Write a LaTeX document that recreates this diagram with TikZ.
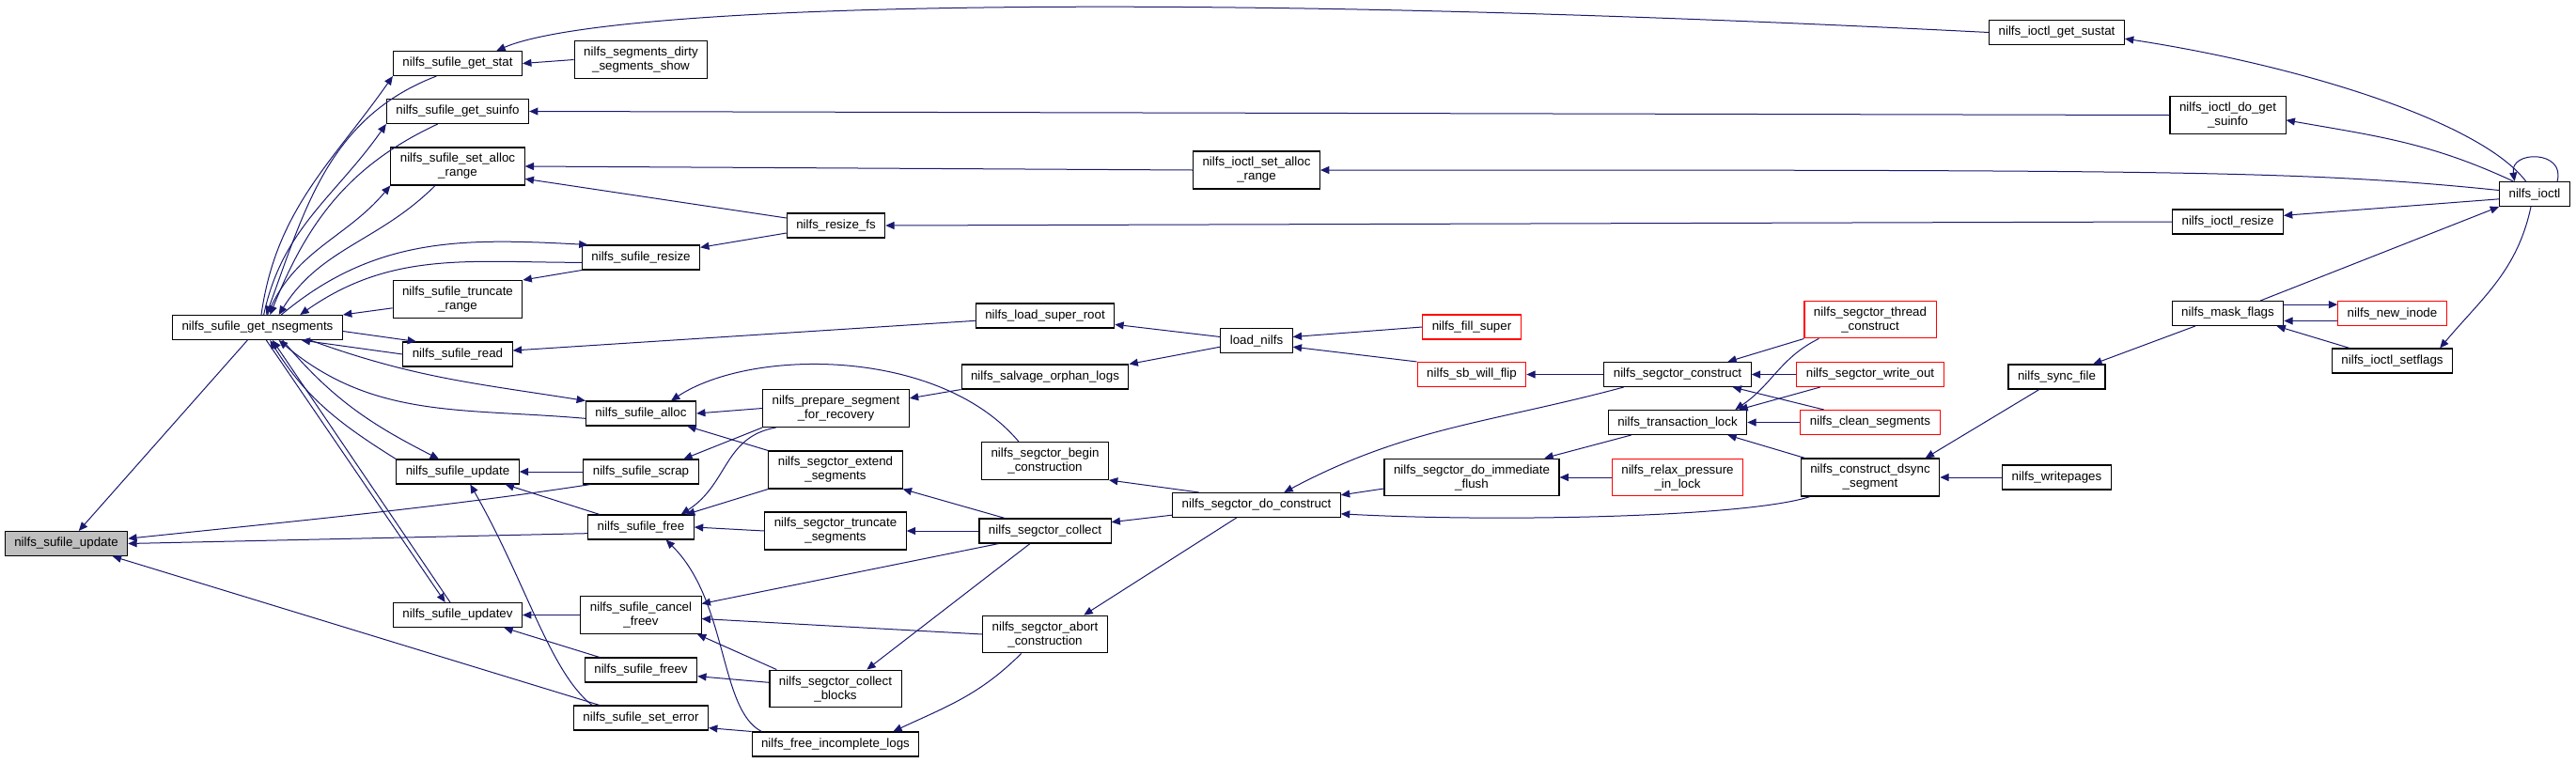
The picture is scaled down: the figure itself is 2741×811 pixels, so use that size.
\documentclass[tikz,border=0pt]{standalone}
\usepackage{fontspec}
\setmainfont{Liberation Sans}
\usepackage{tikz}
\usetikzlibrary{arrows.meta, positioning}
\definecolor{edgeblue}{HTML}{191970}
\definecolor{hlgray}{HTML}{BFBFBF}
\definecolor{dxred}{HTML}{FF0000}

\begin{document}
\begin{tikzpicture}[x=0.75pt, y=-0.75pt, font=\fontsize{10pt}{11.25pt}\selectfont,
    blk/.style={draw=black, line width=0.8pt, fill=white, inner xsep=7.5pt, inner ysep=4.7pt, minimum height=19.5pt, align=center},
    hl/.style={blk, fill=hlgray},
    redblk/.style={blk, draw=dxred},
    arrow/.style={-{Triangle[length=7pt, width=6pt]}, draw=edgeblue, line width=0.75pt}]
    \useasboundingbox (0,0) rectangle (2741,811);

    \node[hl] (upd0) at (70.5,578.5) {nilfs\_sufile\_update};
    \node[blk] (gns) at (274,348.5) {nilfs\_sufile\_get\_nsegments};

    \node[blk] (getstat) at (487,67.5) {nilfs\_sufile\_get\_stat};
    \node[blk] (getsuinfo) at (487,118.5) {nilfs\_sufile\_get\_suinfo};
    \node[blk] (setalloc) at (487,177) {nilfs\_sufile\_set\_alloc\\\_range};
    \node[blk] (truncrange) at (487,318.5) {nilfs\_sufile\_truncate\\\_range};
    \node[blk] (sread) at (487,377) {nilfs\_sufile\_read};
    \node[blk] (upd) at (487,502) {nilfs\_sufile\_update};
    \node[blk] (updatev) at (487,654.5) {nilfs\_sufile\_updatev};

    \node[blk] (dirtyshow) at (682,63.5) {nilfs\_segments\_dirty\\\_segments\_show};
    \node[blk] (sresize) at (682,274) {nilfs\_sufile\_resize};
    \node[blk] (salloc) at (682,440) {nilfs\_sufile\_alloc};
    \node[blk] (scrap) at (682,502) {nilfs\_sufile\_scrap};
    \node[blk] (sfree) at (682,561) {nilfs\_sufile\_free};
    \node[blk] (cancelfreev) at (682,654.5) {nilfs\_sufile\_cancel\\\_freev};
    \node[blk] (freev) at (682,713) {nilfs\_sufile\_freev};
    \node[blk] (seterror) at (682,764) {nilfs\_sufile\_set\_error};

    \node[blk] (resizefs) at (889.5,240) {nilfs\_resize\_fs};
    \node[blk] (prepseg) at (889.5,434.5) {nilfs\_prepare\_segment\\\_for\_recovery};
    \node[blk] (extendseg) at (889,500) {nilfs\_segctor\_extend\\\_segments};
    \node[blk] (truncseg) at (889,565) {nilfs\_segctor\_truncate\\\_segments};
    \node[blk] (collectblk) at (889,733) {nilfs\_segctor\_collect\\\_blocks};
    \node[blk] (freeinc) at (889,792) {nilfs\_free\_incomplete\_logs};

    \node[blk] (loadsr) at (1112,336) {nilfs\_load\_super\_root};
    \node[blk] (salvage) at (1112,401) {nilfs\_salvage\_orphan\_logs};
    \node[blk] (begincons) at (1112,490.5) {nilfs\_segctor\_begin\\\_construction};
    \node[blk] (collect) at (1112,565) {nilfs\_segctor\_collect};
    \node[blk] (abortcons) at (1112,675) {nilfs\_segctor\_abort\\\_construction};

    \node[blk] (ioctlsetalloc) at (1337,181) {nilfs\_ioctl\_set\_alloc\\\_range};
    \node[blk] (loadnilfs) at (1337,362.5) {load\_nilfs};
    \node[blk] (doconstruct) at (1337,537.5) {nilfs\_segctor\_do\_construct};

    \node[redblk] (fillsuper) at (1566,348) {nilfs\_fill\_super};
    \node[redblk] (sbflip) at (1566,398.5) {nilfs\_sb\_will\_flip};
    \node[blk] (immflush) at (1566,508) {nilfs\_segctor\_do\_immediate\\\_flush};

    \node[blk] (segconstruct) at (1785,398.5) {nilfs\_segctor\_construct};
    \node[blk] (translock) at (1785,449.5) {nilfs\_transaction\_lock};
    \node[redblk] (relax) at (1785,508) {nilfs\_relax\_pressure\\\_in\_lock};

    \node[redblk] (threadcons) at (1990,340) {nilfs\_segctor\_thread\\\_construct};
    \node[redblk] (writeout) at (1990,398.5) {nilfs\_segctor\_write\_out};
    \node[redblk] (cleanseg) at (1990,449.5) {nilfs\_clean\_segments};
    \node[blk] (dsync) at (1990,508) {nilfs\_construct\_dsync\\\_segment};

    \node[blk] (getsustat) at (2188.5,34.5) {nilfs\_ioctl\_get\_sustat};
    \node[blk] (syncfile) at (2188.5,401) {nilfs\_sync\_file};
    \node[blk] (writepages) at (2188.5,508) {nilfs\_writepages};

    \node[blk] (dogetsuinfo) at (2370.5,122.5) {nilfs\_ioctl\_do\_get\\\_suinfo};
    \node[blk] (ioctlresize) at (2370.5,236) {nilfs\_ioctl\_resize};
    \node[blk] (maskflags) at (2370.5,333.5) {nilfs\_mask\_flags};
    \node[redblk] (newinode) at (2545.5,333.5) {nilfs\_new\_inode};
    \node[blk] (setflags) at (2545.5,384) {nilfs\_ioctl\_setflags};
    \node[blk] (ioctl) at (2697,206.5) {nilfs\_ioctl};

    \draw[arrow] ([xshift=-8pt]gns.south) -- ([xshift=10pt]upd0.north);
    \draw[arrow] ([xshift=6pt]scrap.south west) .. controls (470,540) and (300,556) .. ([yshift=4pt]upd0.east);
    \draw[arrow] ([yshift=-5pt]sfree.west) -- (upd0.east);
    \draw[arrow] ([xshift=-33pt]seterror.north) -- ([xshift=37pt]upd0.south);

    \draw[arrow] ([xshift=3pt]gns.north) to[out=82, in=235] (getstat.south west);
    \draw[arrow] ([xshift=-17pt]getstat.south) to[out=201, in=70] ([xshift=7pt]gns.north);
    \draw[arrow] ([xshift=5pt]gns.north) to[out=78, in=235] (getsuinfo.south west);
    \draw[arrow] ([xshift=-16pt]getsuinfo.south) to[out=205, in=68] ([xshift=10pt]gns.north);
    \draw[arrow] ([xshift=8pt]gns.north) to[out=68, in=230] (setalloc.south west);
    \draw[arrow] ([xshift=-18pt]setalloc.south) to[out=225, in=58] ([xshift=17pt]gns.north);
    \draw[arrow] ([xshift=19pt]gns.north) to[out=40, in=177] ([xshift=5pt]sresize.north west);
    \draw[arrow] ([yshift=-4pt]sresize.west) to[out=180, in=35] ([xshift=34pt]gns.north);
    \draw[arrow] ([yshift=-7pt]truncrange.west) -- (gns.north east);
    \draw[arrow] (sresize.south west) -- (truncrange.north east);
    \draw[arrow] ([yshift=-3pt]gns.east) -- ([xshift=-33pt]sread.north);
    \draw[arrow] (sread.west) -- ([xshift=35pt]gns.south);
    \draw[arrow] ([yshift=-4pt]loadsr.west) -- ([yshift=3pt]sread.east);
    \draw[arrow] ([xshift=42pt]gns.south) to[out=-20, in=171] (salloc.north west);
    \draw[arrow] ([yshift=-4pt]salloc.west) to[out=175, in=-40] ([xshift=17pt]gns.south);
    \draw[arrow] ([xshift=20pt]gns.south) to[out=-50, in=153] ([xshift=-15pt]upd.north);
    \draw[arrow] (upd.north west) to[out=148, in=-58] ([xshift=10pt]gns.south);
    \draw[arrow] ([xshift=7pt]gns.south) -- ([xshift=-10pt]updatev.north);
    \draw[arrow] ([xshift=-6pt]updatev.north) -- ([xshift=12pt]gns.south);

    \draw[arrow] (scrap.west) -- (upd.east);
    \draw[arrow] ([xshift=-33pt]sfree.north) -- ([xshift=38pt]upd.south);
    \draw[arrow] ([xshift=-39pt]seterror.north) .. controls (585,715) and (560,620) .. ([xshift=10pt]upd.south);
    \draw[arrow] (cancelfreev.west) -- (updatev.east);
    \draw[arrow] ([xshift=-33pt]freev.north) -- ([xshift=37pt]updatev.south);

    \draw[arrow] (dirtyshow.west) -- (getstat.east);
    \draw[arrow] (getsustat.west) .. controls (1200,-12) and (640,6) .. ([xshift=31pt]getstat.north);
    \draw[arrow] (dogetsuinfo.west) -- (getsuinfo.east);
    \draw[arrow] (ioctlsetalloc.west) -- (setalloc.east);
    \draw[arrow] ([yshift=6pt]resizefs.west) -- ([yshift=-10pt]setalloc.east);
    \draw[arrow] ([yshift=-6pt]resizefs.west) -- ([yshift=8pt]sresize.east);
    \draw[arrow] (ioctlresize.west) -- (resizefs.east);

    \draw[arrow] ([yshift=3pt]ioctl.west) .. controls (2450,181) and (2300,181) .. (ioctlsetalloc.east);
    \draw[arrow] ([yshift=-4pt]ioctl.west) -- ([yshift=5pt]ioctlresize.east);
    \draw[arrow] ([xshift=-17pt]ioctl.north) to[out=155, in=-10] ([yshift=-4pt]dogetsuinfo.east);
    \draw[arrow] ([xshift=-7pt]ioctl.north) .. controls (2640,130) and (2450,70) .. ([yshift=-5pt]getsustat.east);
    \draw[arrow] ([xshift=18pt]ioctl.north) .. controls ([xshift=25pt,yshift=25pt]ioctl.north) and ([xshift=-20pt,yshift=25pt]ioctl.north) .. ([xshift=-16pt]ioctl.north);
    \draw[arrow] ([xshift=26pt]maskflags.north) -- (ioctl.south west);
    \draw[arrow] ([xshift=-3pt]ioctl.south) to[out=-102, in=50] ([xshift=38pt]setflags.north);
    \draw[arrow] ([yshift=7pt]maskflags.east) -- ([yshift=7pt]newinode.west);
    \draw[arrow] ([yshift=-6pt]newinode.west) -- ([yshift=-6pt]maskflags.east);
    \draw[arrow] ([xshift=-34pt]setflags.north) -- ([xshift=39pt]maskflags.south);
    \draw[arrow] ([xshift=-26pt]maskflags.south) -- ([xshift=29pt]syncfile.north);
    \draw[arrow] ([xshift=-14pt]syncfile.south) -- ([xshift=44pt]dsync.north);
    \draw[arrow] (writepages.west) -- (dsync.east);

    \draw[arrow] ([xshift=-52pt]dsync.north) -- ([xshift=40pt]translock.south);
    \draw[arrow] ([xshift=-48pt]dsync.south) .. controls (1860,550) and (1600,556) .. ([yshift=-7pt]doconstruct.east);
    \draw[arrow] (writeout.west) -- (segconstruct.east);
    \draw[arrow] ([xshift=-40pt]writeout.south) -- ([xshift=49pt]translock.north);
    \draw[arrow] (threadcons.south west) -- ([xshift=40pt]segconstruct.north);
    \draw[arrow] ([xshift=-41pt]threadcons.south) .. controls (1895,380) and (1885,410) .. ([xshift=46pt]translock.north);
    \draw[arrow] ([xshift=-37pt]cleanseg.north) -- ([xshift=44pt]segconstruct.south);
    \draw[arrow] (cleanseg.west) -- (translock.east);
    \draw[arrow] (segconstruct.west) -- (sbflip.east);
    \draw[arrow] ([xshift=-43pt]segconstruct.south) to[out=195, in=28] ([xshift=22pt]doconstruct.north);
    \draw[arrow] ([xshift=-37pt]translock.south) -- ([xshift=58pt]immflush.north);
    \draw[arrow] (relax.west) -- (immflush.east);
    \draw[arrow] ([yshift=-9pt]immflush.west) -- ([yshift=8pt]doconstruct.east);

    \draw[arrow] (sbflip.north west) -- ([yshift=-5pt]loadnilfs.east);
    \draw[arrow] (fillsuper.west) -- ([yshift=3pt]loadnilfs.east);
    \draw[arrow] ([yshift=3pt]loadnilfs.west) -- ([yshift=-7pt]loadsr.east);
    \draw[arrow] ([yshift=-5pt]loadnilfs.west) -- (salvage.north east);
    \draw[arrow] (salvage.south west) -- ([yshift=8pt]prepseg.east);

    \draw[arrow] (prepseg.west) -- (salloc.east);
    \draw[arrow] (prepseg.south west) -- ([xshift=34pt]scrap.north);
    \draw[arrow] ([xshift=-48pt]prepseg.south) .. controls (770,465) and (775,515) .. ([xshift=32pt]sfree.north);
    \draw[arrow] (extendseg.north west) -- ([xshift=37pt]salloc.south);
    \draw[arrow] (extendseg.south west) -- ([xshift=36pt]sfree.north);
    \draw[arrow] (truncseg.west) -- (sfree.east);
    \draw[arrow] ([xshift=-59pt]freeinc.north) .. controls (765,755) and (775,640) .. ([xshift=20pt]sfree.south);
    \draw[arrow] ([xshift=-37pt]collect.south) -- ([yshift=9pt]cancelfreev.east);
    \draw[arrow] (abortcons.west) -- ([yshift=-3pt]cancelfreev.east);
    \draw[arrow] ([xshift=-47pt]collectblk.north) -- ([xshift=45pt]cancelfreev.south);
    \draw[arrow] ([yshift=5pt]collectblk.west) -- ([yshift=-5pt]freev.east);
    \draw[arrow] (freeinc.north west) -- ([yshift=-8pt]seterror.east);

    \draw[arrow] ([xshift=-19pt]abortcons.south) to[out=225, in=25] ([xshift=46pt]freeinc.north);
    \draw[arrow] ([xshift=-12pt]collect.south) -- ([xshift=25pt]collectblk.north);
    \draw[arrow] ([xshift=-32pt]collect.north) -- (extendseg.south east);
    \draw[arrow] (collect.west) -- (truncseg.east);
    \draw[arrow] ([xshift=-46pt]doconstruct.north) -- (begincons.south east);
    \draw[arrow] ([yshift=-8pt]doconstruct.west) -- ([yshift=7pt]collect.east);
    \draw[arrow] ([xshift=-16pt]doconstruct.south) -- ([xshift=31pt]abortcons.north);
    \draw[arrow] ([xshift=-21pt]begincons.north) .. controls (1000,370) and (800,370) .. ([xshift=24pt]salloc.north);
\end{tikzpicture}
\end{document}
